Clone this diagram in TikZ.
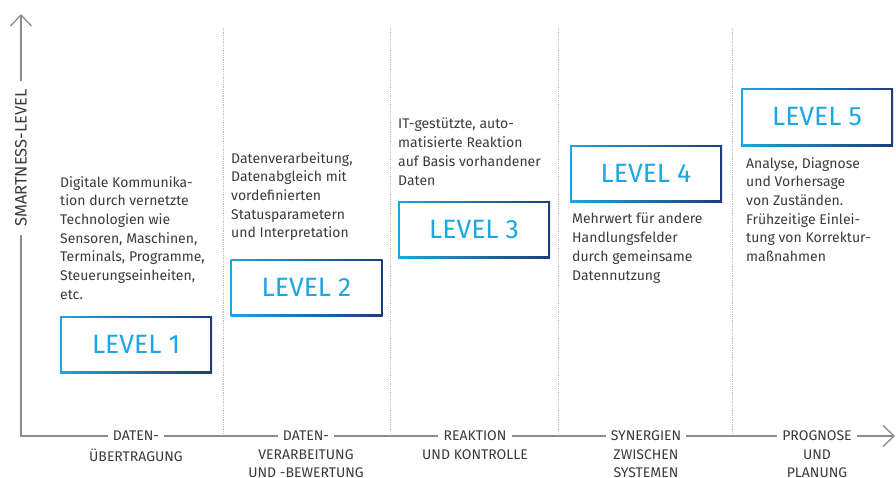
\documentclass[tikz,border=0pt]{standalone}
\usepackage{fontspec}
\setmainfont{Fira Sans}
\usetikzlibrary{positioning,arrows.meta}

\definecolor{axisgray}{HTML}{8C8C8C}
\definecolor{gridgray}{HTML}{BDBDBD}
\definecolor{textgray}{HTML}{3A3A3A}
\definecolor{lvlcyan}{HTML}{1BA6E4}
\definecolor{lvlnavy}{HTML}{1E3C78}

\begin{document}
\begin{tikzpicture}[
    x=1pt, y=-1pt,
    >={Straight Barb[length=11pt, width=21pt, line width=1.3pt]},
    axis/.style={draw=axisgray, line width=2pt},
    divider/.style={draw=gridgray, densely dotted, line width=0.8pt},
    levelbox/.style={minimum width=152pt, minimum height=57pt, inner sep=0pt,
                left color=lvlcyan, right color=lvlnavy, text=lvlcyan,
                font=\fontsize{26.5}{30}\selectfont,
                path picture={\fill[white]
                  ([shift={(1.6pt,1.6pt)}]path picture bounding box.south west) rectangle
                  ([shift={(-1.6pt,-1.6pt)}]path picture bounding box.north east);}},
    desc/.style={anchor=north west, align=left, inner sep=0pt, text=textgray,
                font=\fontsize{14}{18.7}\selectfont},
    axlabel/.style={fill=white, inner xsep=5pt, inner ysep=1pt, text=textgray,
                font=\fontsize{14}{18}\selectfont},
    axsub/.style={anchor=north, align=center, inner sep=0pt, text=textgray,
                font=\fontsize{14}{18}\selectfont},
    ylabel/.style={fill=white, inner xsep=8pt, inner ysep=1pt, text=textgray,
                font=\fontsize{16.5}{18}\selectfont, rotate=90},
  ]
  \useasboundingbox (0,0) rectangle (896,477);

  % --- column separators ---
  \draw[divider] (223,28) -- (223,434);
  \draw[divider] (390,28) -- (390,434);
  \draw[divider] (558,28) -- (558,434);
  \draw[divider] (732,28) -- (732,434);

  % --- axes ---
  \coordinate (origin) at (21,436);
  \coordinate (ytip)   at (21,14);
  \coordinate (xtip)   at (895,436);
  \node[ylabel] (ylab) at (21,158) {SMARTNESS-LEVEL};

  \node[axlabel] (ax1) at (136,436) {DATEN-};
  \node[axlabel] (ax2) at (306,436) {DATEN-};
  \node[axlabel] (ax3) at (475,436) {REAKTION};
  \node[axlabel] (ax4) at (646,436) {SYNERGIEN};
  \node[axlabel] (ax5) at (817,436) {PROGNOSE};
  \node[axsub, below=7pt of ax1] {ÜBERTRAGUNG};
  \node[axsub, below=7pt of ax2] {VERARBEITUNG\\UND -BEWERTUNG};
  \node[axsub, below=7pt of ax3] {UND KONTROLLE};
  \node[axsub, below=7pt of ax4] {ZWISCHEN\\SYSTEMEN};
  \node[axsub, below=7pt of ax5] {UND\\PLANUNG};

  \draw[axis, ->] (ylab) -- (ytip);
  \draw[axis] (ylab) -- (origin) -- (ax1);
  \draw[axis] (ax1) -- (ax2);
  \draw[axis] (ax2) -- (ax3);
  \draw[axis] (ax3) -- (ax4);
  \draw[axis] (ax4) -- (ax5);
  \draw[axis, ->] (ax5) -- (xtip);

  % --- level boxes, one step up per column ---
  \node[levelbox] (lvl1) at (136,344.5) {LEVEL 1};
  \node[levelbox] (lvl2) at (306.5,287.5) {LEVEL 2};
  \node[levelbox] (lvl3) at (474,229.5) {LEVEL 3};
  \node[levelbox] (lvl4) at (646,173.5) {LEVEL 4};
  \node[levelbox, minimum height=58pt] (lvl5) at (817,117) {LEVEL 5};

  % --- descriptions ---
  \node[desc] (txt1) at (60,176) {Digitale Kommunika-\\tion durch vernetzte\\Technologien wie\\Sensoren, Maschinen,\\Terminals, Programme,\\Steuerungseinheiten,\\etc.};
  \node[desc] (txt2) at (231,152) {Datenverarbeitung,\\Datenabgleich mit\\vordefinierten\\Statusparametern\\und Interpretation};
  \node[desc] (txt3) at (398,118) {IT-gestützte, auto-\\matisierte Reaktion\\auf Basis vorhandener\\Daten};
  \node[desc] (txt4) at (572,213) {Mehrwert für andere\\Handlungsfelder\\durch gemeinsame\\Datennutzung};
  \node[desc] (txt5) at (746,157) {Analyse, Diagnose\\und Vorhersage\\von Zuständen.\\Frühzeitige Einlei-\\tung von Korrektur-\\maßnahmen};
\end{tikzpicture}
\end{document}
